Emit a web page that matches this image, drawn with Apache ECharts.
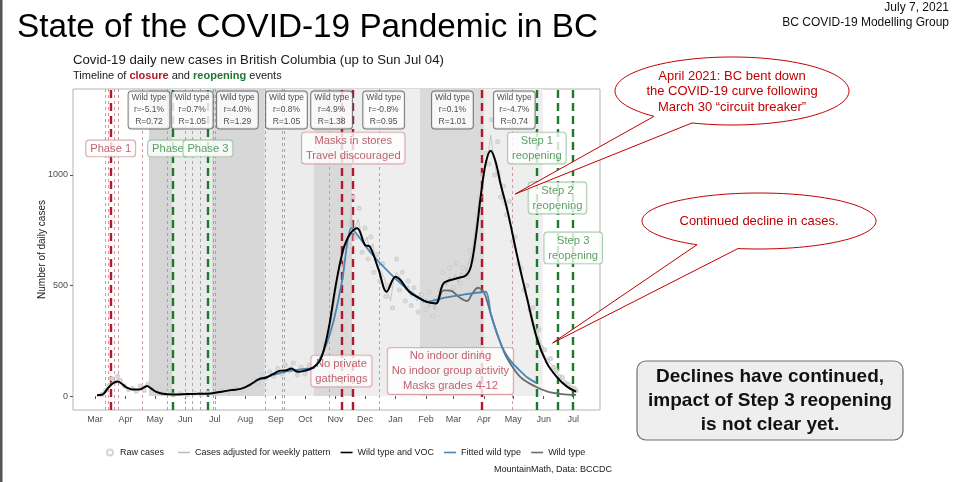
<!DOCTYPE html>
<html>
<head>
<meta charset="utf-8">
<script src="https://cdn.jsdelivr.net/npm/echarts@6.0.0/dist/echarts.min.js"></script>
<style>
html,body{margin:0;padding:0;background:#fff;}
#chart{width:957px;height:482px;}
</style>
</head>
<body>
<div id="chart"></div>
<script>
// ================= DATA =================
const monthTicks = ['2020-03-01','2020-04-01','2020-05-01','2020-06-01','2020-07-01','2020-08-01','2020-09-01','2020-10-01','2020-11-01','2020-12-01','2021-01-01','2021-02-01','2021-03-01','2021-04-01','2021-05-01','2021-06-01','2021-07-01'];
const monthLabels = ['Mar','Apr','May','Jun','Jul','Aug','Sep','Oct','Nov','Dec','Jan','Feb','Mar','Apr','May','Jun','Jul'];
const yTicks = [0, 500, 1000];

const rawCases = [
 ['2020-03-08',6],['2020-03-12',25],['2020-03-15',45],['2020-03-18',80],['2020-03-21',62],['2020-03-24',90],['2020-03-27',70],['2020-03-31',45],
 ['2020-04-04',30],['2020-04-08',35],['2020-04-12',22],['2020-04-16',45],['2020-04-20',25],['2020-04-24',55],['2020-04-28',30],
 ['2020-05-03',20],['2020-05-08',12],['2020-05-14',16],['2020-05-20',5],['2020-05-27',12],
 ['2020-06-03',6],['2020-06-10',14],['2020-06-17',8],['2020-06-24',15],
 ['2020-07-01',12],['2020-07-08',25],['2020-07-15',20],['2020-07-22',35],['2020-07-29',28],
 ['2020-08-05',50],['2020-08-10',75],['2020-08-14',60],['2020-08-18',95],['2020-08-22',80],['2020-08-26',110],['2020-08-30',90],
 ['2020-09-03',125],['2020-09-07',100],['2020-09-11',140],['2020-09-15',115],['2020-09-19',150],['2020-09-23',95],['2020-09-27',130],
 ['2020-10-01',100],['2020-10-05',140],['2020-10-09',115],['2020-10-13',160],['2020-10-17',145],['2020-10-21',230],['2020-10-25',290],['2020-10-29',380],
 ['2020-11-02',500],['2020-11-06',590],['2020-11-10',620],['2020-11-13',780],['2020-11-16',680],['2020-11-19',900],['2020-11-22',720],['2020-11-25',850],['2020-11-28',650],
 ['2020-12-01',760],['2020-12-04',620],['2020-12-07',720],['2020-12-10',560],['2020-12-13',640],['2020-12-16',520],['2020-12-19',600],['2020-12-22',450],['2020-12-26',500],['2020-12-29',400],
 ['2021-01-02',620],['2021-01-05',480],['2021-01-08',560],['2021-01-11',430],['2021-01-14',520],['2021-01-17',410],['2021-01-20',490],['2021-01-24',380],['2021-01-28',460],
 ['2021-02-01',390],['2021-02-04',470],['2021-02-08',360],['2021-02-11',440],['2021-02-15',480],['2021-02-18',560],['2021-02-22',470],['2021-02-25',580],
 ['2021-03-01',490],['2021-03-04',600],['2021-03-08',510],['2021-03-11',580],['2021-03-15',540],['2021-03-18',660],['2021-03-22',620],['2021-03-25',820],['2021-03-28',900],['2021-03-31',1000],
 ['2021-04-03',1100],['2021-04-06',1050],['2021-04-09',1250],['2021-04-12',1000],['2021-04-15',1150],['2021-04-18',900],['2021-04-21',950],['2021-04-24',820],['2021-04-27',880],['2021-04-30',700],
 ['2021-05-03',720],['2021-05-06',600],['2021-05-09',580],['2021-05-12',480],['2021-05-15',500],['2021-05-18',390],['2021-05-21',400],['2021-05-24',290],['2021-05-27',300],['2021-05-30',220],
 ['2021-06-02',210],['2021-06-05',160],['2021-06-08',170],['2021-06-11',130],['2021-06-14',115],['2021-06-17',90],['2021-06-20',85],['2021-06-23',60],['2021-06-26',55],['2021-06-29',40],
 ['2021-07-02',35],['2021-07-04',25]
];

const adjustedCases = [
 ['2020-03-05',10],['2020-03-10',20],['2020-03-13',40],['2020-03-17',60],['2020-03-21',70],['2020-03-25',75],['2020-03-29',45],
 ['2020-04-02',40],['2020-04-06',28],['2020-04-10',32],['2020-04-14',26],['2020-04-18',40],['2020-04-22',50],['2020-04-26',35],
 ['2020-05-01',22],['2020-05-06',15],['2020-05-12',12],['2020-05-18',8],['2020-05-25',9],
 ['2020-06-01',8],['2020-06-08',12],['2020-06-15',10],['2020-06-22',12],['2020-06-29',16],
 ['2020-07-06',22],['2020-07-13',25],['2020-07-20',30],['2020-07-27',32],
 ['2020-08-03',45],['2020-08-08',60],['2020-08-12',80],['2020-08-16',70],['2020-08-20',90],['2020-08-24',85],['2020-08-28',100],
 ['2020-09-01',110],['2020-09-05',120],['2020-09-09',105],['2020-09-13',125],['2020-09-17',135],['2020-09-21',115],['2020-09-25',105],['2020-09-29',120],
 ['2020-10-03',110],['2020-10-07',125],['2020-10-11',135],['2020-10-15',155],['2020-10-19',180],['2020-10-23',260],['2020-10-27',320],['2020-10-31',440],
 ['2020-11-04',560],['2020-11-08',640],['2020-11-12',700],['2020-11-15',720],['2020-11-17',860],['2020-11-19',700],['2020-11-21',760],['2020-11-24',800],['2020-11-27',740],['2020-11-30',690],
 ['2020-12-03',720],['2020-12-06',650],['2020-12-09',690],['2020-12-12',600],['2020-12-15',580],['2020-12-18',560],['2020-12-21',530],['2020-12-24',470],['2020-12-27',430],['2020-12-30',520],
 ['2021-01-02',560],['2021-01-05',540],['2021-01-08',520],['2021-01-11',480],['2021-01-14',500],['2021-01-17',450],['2021-01-20',460],['2021-01-23',430],['2021-01-26',470],['2021-01-29',420],
 ['2021-02-01',440],['2021-02-04',400],['2021-02-07',430],['2021-02-10',390],['2021-02-13',450],['2021-02-16',470],['2021-02-19',520],['2021-02-22',500],['2021-02-25',540],['2021-02-28',520],
 ['2021-03-03',550],['2021-03-06',510],['2021-03-09',560],['2021-03-12',540],['2021-03-15',580],['2021-03-18',620],['2021-03-21',680],['2021-03-24',780],['2021-03-27',880],['2021-03-30',940],
 ['2021-04-02',1040],['2021-04-05',1080],['2021-04-08',1180],['2021-04-11',1090],['2021-04-14',1000],['2021-04-17',1020],['2021-04-20',880],['2021-04-23',860],['2021-04-26',800],['2021-04-29',760],
 ['2021-05-02',680],['2021-05-05',640],['2021-05-08',560],['2021-05-11',530],['2021-05-14',470],['2021-05-17',420],['2021-05-20',370],['2021-05-23',310],['2021-05-26',280],['2021-05-29',240],
 ['2021-06-01',190],['2021-06-04',175],['2021-06-07',150],['2021-06-10',140],['2021-06-13',110],['2021-06-16',95],['2021-06-19',80],['2021-06-22',70],['2021-06-25',55],['2021-06-28',45],
 ['2021-07-01',35],['2021-07-04',30]
];

const wildVocCases = [
 ['2020-03-03',4],['2020-03-09',8],['2020-03-14',35],['2020-03-19',57],['2020-03-24',66],['2020-03-28',57],
 ['2020-04-02',39],['2020-04-08',30],['2020-04-15',30],['2020-04-20',39],['2020-04-23',45],['2020-04-27',35],
 ['2020-05-02',20],['2020-05-09',10],['2020-05-20',7],['2020-06-03',9],['2020-06-13',10],['2020-06-27',12],
 ['2020-07-08',20],['2020-07-18',27],['2020-07-29',35],['2020-08-08',57],['2020-08-15',77],['2020-08-22',83],['2020-08-29',99],
 ['2020-09-05',114],['2020-09-12',117],['2020-09-17',125],['2020-09-23',110],['2020-09-30',114],
 ['2020-10-09',129],['2020-10-16',160],['2020-10-21',225],['2020-10-26',330],['2020-10-31',470],
 ['2020-11-05',590],['2020-11-10',680],['2020-11-16',735],['2020-11-23',759],
 ['2020-12-01',683],['2020-12-06',676],['2020-12-15',570],['2020-12-23',472],
 ['2021-01-01',540],['2021-01-06',525],['2021-01-15',472],['2021-01-23',449],
 ['2021-02-01',427],['2021-02-11',419],['2021-02-19',510],['2021-03-04',532],['2021-03-14',547],['2021-03-19',590],['2021-03-24',725],['2021-03-29',910],
 ['2021-04-03',1055],['2021-04-08',1110],['2021-04-13',1060],['2021-04-18',960],['2021-04-25',840],
 ['2021-05-05',633],['2021-05-15',442],['2021-05-25',262],['2021-06-04',150],['2021-06-14',88],['2021-06-24',45],['2021-07-04',20]
];

const fittedWildCases = [
 ['2020-08-12',70],['2020-08-22',86],['2020-09-02',100],['2020-09-12',112],['2020-09-22',118],['2020-10-02',124],
 ['2020-10-10',128],['2020-10-20',205],['2020-10-30',340],['2020-11-08',530],['2020-11-17',760],
 ['2020-12-07',647],['2020-12-27',553],['2021-01-16',473],['2021-02-02',427],['2021-02-20',445],['2021-03-10',458],['2021-04-03',472],
 ['2021-04-08',372],['2021-04-13',299],['2021-04-18',240],['2021-04-23',194],['2021-04-30',150],['2021-05-07',118],['2021-05-15',85],['2021-05-25',58]
];

const wildTypeCases = [
 ['2021-01-16',473],['2021-01-23',449],['2021-02-01',427],['2021-02-11',419],['2021-02-19',478],['2021-02-26',477],
 ['2021-03-07',447],['2021-03-15',430],['2021-03-20',462],['2021-03-26',490],['2021-04-01',470],['2021-04-08',372],
 ['2021-04-17',252],['2021-04-24',177],['2021-05-08',87],['2021-05-24',42],['2021-06-05',20],['2021-06-19',9],['2021-07-04',5]
];

// fitted periods (shaded) and their growth estimates
const periodStart = ['2020-04-25','2020-05-19','2020-06-28','2020-08-21','2020-10-10','2020-11-18','2021-01-26','2021-04-01'];
const periodEnd   = ['2020-05-19','2020-06-28','2020-08-21','2020-10-10','2020-11-18','2021-01-26','2021-04-01','2021-05-31'];
const periodGrowth = ['-5.1%','0.7%','4.0%','0.8%','4.9%','-0.8%','0.1%','-4.7%'];
const periodR = ['0.72','1.05','1.29','1.05','1.38','0.95','1.01','0.74'];

// events
const closureMajor = ['2020-03-17','2020-11-07','2020-11-19','2021-03-30'];
const closureMinor = ['2020-03-11','2020-03-14','2020-03-21','2020-03-25','2020-04-18','2020-08-21','2020-10-26','2021-04-30'];
const reopeningMajor = ['2020-05-19','2020-06-24','2021-05-25','2021-06-15','2021-07-01'];
const otherEvents = ['2020-05-14','2020-06-01','2020-06-08','2020-06-16','2020-06-29','2020-07-01','2020-09-08','2020-09-10','2020-12-15'];

const eventLabelText = ['Phase 1','Phase 2','Phase 3','Masks in stores\nTravel discouraged','No private\ngatherings','No indoor dining\nNo indoor group activity\nMasks grades 4-12','Step 1\nreopening','Step 2\nreopening','Step 3\nreopening'];
const eventLabelKind = ['closure','reopen','reopen','closure','closure','closure','reopen','reopen','reopen'];

// ================= LAYOUT =================
const FONT = '"Liberation Sans", Arial, Helvetica, sans-serif';
const eventLabelX = ['2020-03-17','2020-05-19','2020-06-24','2020-11-19','2020-11-07','2021-02-26','2021-05-25','2021-06-15','2021-07-01'];
const eventLabelY = [1120,1120,1120,1122,113,113,1122,896,670];
const wildBoxX = ['2020-04-25','2020-06-08','2020-07-24','2020-09-12','2020-10-28','2020-12-20','2021-02-28','2021-05-02'];
const wildBoxY = 1294;
const Y_MIN = -63, Y_MAX = 1389;
const shadeColors = ['#d5d5d5','#ebebeb','#d7d7d7','#ececec','#d9d9d9','#eeeeee','#dadada','#eeeeee'];
const RED = '#b2182b', GREEN = '#1b7a2b';

function ts(s){const p=s.split('-').map(Number);return Date.UTC(p[0],p[1]-1,p[2]);}
function toXY(arr){return arr.map(d=>[ts(d[0]), d[1]]);}
const tickTs = monthTicks.map(ts);
const tickMap = {}; tickTs.forEach((t,i)=>{tickMap[t]=monthLabels[i];});

const X_MIN = ts('2020-03-01') - 22.4*864e5;
const X_MAX = ts('2020-03-01') + 514.3*864e5;

// event lines
const evLines = [];
otherEvents.forEach(d=>evLines.push({xAxis:ts(d), lineStyle:{color:'#9e9e9e', width:0.9, type:[3,3]}}));
closureMinor.forEach(d=>evLines.push({xAxis:ts(d), lineStyle:{color:'#d98a93', width:0.9, type:[3,3]}}));
closureMajor.forEach(d=>evLines.push({xAxis:ts(d), lineStyle:{color:RED, width:2.4, type:[8,5]}}));
reopeningMajor.forEach(d=>evLines.push({xAxis:ts(d), lineStyle:{color:GREEN, width:2.4, type:[8,5]}}));

// shaded periods
const areas = periodStart.map((s,i)=>[
  {xAxis:ts(s), yAxis:0, itemStyle:{color:shadeColors[i]}},
  {xAxis:ts(periodEnd[i]), yAxis:Y_MAX}
]);

// labels
const labelData = [];
periodGrowth.forEach((g,i)=>{
  labelData.push({value:[ts(wildBoxX[i]), wildBoxY], label:{
    formatter:'Wild type\nr=' + g + '\nR=' + periodR[i],
    color:'#222', fontSize:8.5, lineHeight:12, padding:[1,3,0,3],
    backgroundColor:'#fff', borderColor:'#555', borderWidth:0.9, borderRadius:3}});
});
eventLabelText.forEach((t,i)=>{
  const isRed = eventLabelKind[i]==='closure';
  labelData.push({value:[ts(eventLabelX[i]), eventLabelY[i]], label:{
    formatter:t, color:isRed?'#b23a48':'#2f8a3c', fontSize:11.2, lineHeight:15,
    padding:[1,4,0,4], backgroundColor:'#fff',
    borderColor:isRed?'#d08a92':'#86b98c', borderWidth:0.9, borderRadius:3}});
});

const legendText = {fontSize:9, color:'#222', fontFamily:FONT};
const chart = echarts.init(document.getElementById('chart'));
const option = {
  animation:false,
  backgroundColor:'#fff',
  textStyle:{fontFamily:FONT},
  grid:{left:73, right:357, top:89, bottom:72, containLabel:false, outerBoundsMode:'none',
        show:true, borderColor:'#b3b3b3', borderWidth:1, backgroundColor:'transparent'},
  xAxis:{type:'value', min:X_MIN, max:X_MAX, scale:true,
    axisLine:{show:false}, splitLine:{show:false},
    axisTick:{show:true, customValues:tickTs, length:3, lineStyle:{color:'#555'}},
    axisLabel:{customValues:tickTs, formatter:v=>tickMap[v]||'', fontSize:9, color:'#4d4d4d', margin:5, fontFamily:FONT, hideOverlap:false}
  },
  yAxis:{type:'value', min:Y_MIN, max:Y_MAX,
    name:'Number of daily cases', nameLocation:'middle', nameGap:26, nameMoveOverlap:false,
    nameTextStyle:{fontSize:10, color:'#1a1a1a', fontFamily:FONT},
    axisLine:{show:false}, splitLine:{show:false},
    axisTick:{show:true, customValues:yTicks, length:3, lineStyle:{color:'#555'}},
    axisLabel:{customValues:yTicks, formatter:v=>String(v), fontSize:9, color:'#4d4d4d', margin:5, fontFamily:FONT}
  },
  legend:[
    {left:101, top:443, itemWidth:10, itemHeight:6, itemGap:10, textStyle:legendText,
     data:[{name:'Raw cases', icon:'emptyCircle'}]},
    {left:173, top:443, itemWidth:12, itemHeight:1.6, itemGap:10, textStyle:legendText, icon:'rect',
     data:['Cases adjusted for weekly pattern','Wild type and VOC','Fitted wild type','Wild type']}
  ],
  series:[
    {type:'line', data:[], z:0, silent:true,
     markArea:{silent:true, z:0, data:areas}},
    {type:'line', data:[], z:1, silent:true,
     markLine:{silent:true, z:1, symbol:['none','none'], label:{show:false}, animation:false, data:evLines}},
    {name:'Raw cases', type:'scatter', data:toXY(rawCases), z:2, symbol:'emptyCircle', symbolSize:3,
     itemStyle:{color:'#cdcdcd', borderWidth:0.6, opacity:0.85}},
    {name:'Cases adjusted for weekly pattern', type:'line', data:toXY(adjustedCases), z:2, symbol:'none',
     lineStyle:{color:'#bdbdbd', width:0.8}, itemStyle:{color:'#bdbdbd'}},
    {type:'scatter', data:labelData, z:3, symbolSize:0, silent:true,
     label:{show:true, position:'inside', fontFamily:FONT, align:'center'}},
    {name:'Wild type', type:'line', data:toXY(wildTypeCases), z:4, symbol:'none', smooth:0.35,
     lineStyle:{color:'#6b6b6b', width:1.8}, itemStyle:{color:'#6b6b6b'}},
    {name:'Fitted wild type', type:'line', data:toXY(fittedWildCases), z:5, symbol:'none', smooth:0.2,
     lineStyle:{color:'#4a86b8', width:1.8}, itemStyle:{color:'#4a86b8'}},
    {name:'Wild type and VOC', type:'line', data:toXY(wildVocCases), z:6, symbol:'none', smooth:0.35,
     lineStyle:{color:'#000', width:2}, itemStyle:{color:'#000'}}
  ]
};
chart.setOption(option);

// ================= ANNOTATIONS =================
const tip1 = chart.convertToPixel({xAxisIndex:0, yAxisIndex:0}, [ts('2021-05-03'), 914]);
const tip2 = chart.convertToPixel({xAxisIndex:0, yAxisIndex:0}, [ts('2021-06-10'), 240]);

function onEllipse(cx,cy,rx,ry,x){return [x, cy + ry*Math.sqrt(Math.max(0,1-((x-cx)/rx)*((x-cx)/rx)))];}
function callout(cx,cy,rx,ry,xa,xb,tip,text,ty,lh){
  const A = onEllipse(cx,cy,rx,ry,xa), B = onEllipse(cx,cy,rx,ry,xb);
  const inA = [A[0]+(cx-A[0])*0.06, A[1]+(cy-A[1])*0.12];
  const inB = [B[0]+(cx-B[0])*0.06, B[1]+(cy-B[1])*0.12];
  return [
    {type:'ellipse', z:100, shape:{cx:cx, cy:cy, rx:rx, ry:ry}, style:{fill:'#fff', stroke:'#c00000', lineWidth:1}},
    {type:'polygon', z:101, shape:{points:[inA, A, tip, B, inB]}, style:{fill:'#fff', stroke:null}},
    {type:'polyline', z:102, shape:{points:[A, tip, B]}, style:{stroke:'#c00000', lineWidth:1, fill:null}},
    {type:'text', z:103, x:cx, y:ty, style:{text:text, fill:'#c00000', font:'13px ' + FONT, align:'center', verticalAlign:'middle', lineHeight:lh}}
  ];
}

const graphics = [
  {type:'rect', z:100, shape:{x:0, y:0, width:2.5, height:482}, style:{fill:'#555'}},
  {type:'text', z:100, x:17, y:28, style:{text:'State of the COVID-19 Pandemic in BC', font:'33.3px ' + FONT, fill:'#000', verticalAlign:'middle'}},
  {type:'text', z:100, x:949, y:8, style:{text:'July 7, 2021', font:'12px ' + FONT, fill:'#111', align:'right', verticalAlign:'middle'}},
  {type:'text', z:100, x:949, y:22.5, style:{text:'BC COVID-19 Modelling Group', font:'12px ' + FONT, fill:'#111', align:'right', verticalAlign:'middle'}},
  {type:'text', z:100, x:73, y:60, style:{text:'Covid-19 daily new cases in British Columbia (up to Sun Jul 04)', font:'13.2px ' + FONT, fill:'#1a1a1a', verticalAlign:'middle'}},
  {type:'text', z:100, x:73, y:76, style:{text:'Timeline of {r|closure} and {g|reopening} events', font:'11px ' + FONT, fill:'#1a1a1a', verticalAlign:'middle',
    rich:{r:{fill:RED, fontWeight:'bold', fontSize:11, fontFamily:FONT}, g:{fill:GREEN, fontWeight:'bold', fontSize:11, fontFamily:FONT}}}},
  {type:'text', z:100, x:612, y:470, style:{text:'MountainMath, Data: BCCDC', font:'9px ' + FONT, fill:'#1a1a1a', align:'right', verticalAlign:'middle'}},
  {type:'rect', z:100, shape:{x:637, y:361, width:266, height:79, r:9}, style:{fill:'#eeeeee', stroke:'#707070', lineWidth:1.2}},
  {type:'text', z:101, x:770, y:401, style:{text:'Declines have continued,\nimpact of Step 3 reopening\nis not clear yet.', font:'bold 19px ' + FONT, fill:'#111', align:'center', verticalAlign:'middle', lineHeight:24}}
]
.concat(callout(732,91,117,34,654,692,tip1,'April 2021: BC bent down\nthe COVID-19 curve following\nMarch 30 \u201ccircuit breaker\u201d',91.5,15.5))
.concat(callout(759,221,117,28,697,738,tip2,'Continued decline in cases.',221,15));

chart.setOption({graphic: graphics});
</script>
</body>
</html>
